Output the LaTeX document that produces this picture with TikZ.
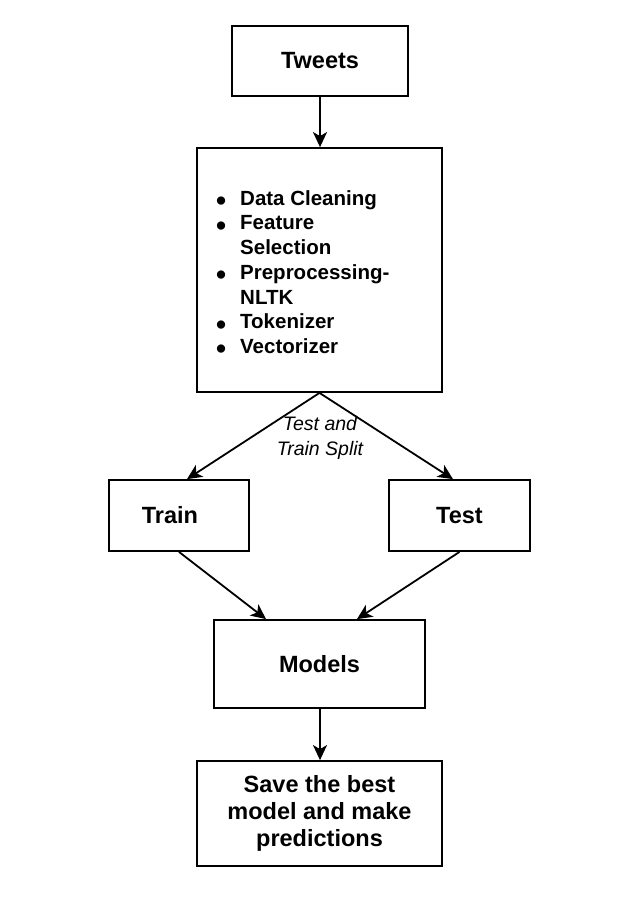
\documentclass[tikz,border=0pt]{standalone}
\usepackage{fontspec}
\usepackage{graphicx}
\setmainfont{Liberation Sans}
\usetikzlibrary{arrows.meta,calc}
\newcommand{\mybul}{\makebox[24pt][l]{\smash{\raisebox{-5.5pt}{\scalebox{1.4}{•}}}}}
\begin{document}
\begin{tikzpicture}[x=1pt,y=-1pt,
  box/.style={draw=black,line width=1.8pt,rectangle,inner sep=0pt,align=center,
    font=\bfseries\fontsize{23.5}{27}\selectfont},
  conn/.style={line width=1.8pt,-{Stealth[length=15pt,width=14pt,inset=4pt]}},
  listtext/.style={inner sep=0pt,align=left,font=\bfseries\fontsize{20.5}{24.7}\selectfont},
  lbl/.style={inner sep=0pt,align=center,font=\itshape\fontsize{19.5}{25}\selectfont}]
\useasboundingbox (0,0) rectangle (634,906);
\node[box,minimum width=176pt,minimum height=70pt] (tweets) at (320,61) {Tweets};
\node[box,minimum width=245pt,minimum height=244pt] (big) at (319.5,270) {};
\node[listtext,anchor=west] (list) at (216,272) {%
\mybul Data Cleaning\\
\mybul Feature\\
\hspace*{24pt}Selection\\
\mybul Preprocessing-\\
\hspace*{24pt}NLTK\\
\mybul Tokenizer\\
\mybul Vectorizer};
\node[box,minimum width=140pt,minimum height=71pt] (train) at (179,515.5) {Train\hspace*{18pt}};
\node[box,minimum width=141pt,minimum height=71pt] (test) at (459.5,515.5) {Test};
\node[box,minimum width=211pt,minimum height=88pt] (models) at (319.5,664) {Models};
\node[box,minimum width=245pt,minimum height=105pt] (save) at (319.5,813.5) {Save the best\\model and make\\predictions};
\node[lbl] (split) at (320,437.5) {Test and\\Train Split};
\draw[conn] (tweets.south) -- (tweets.south |- big.north);
\draw[conn] (big.south) -- ($(train.north)+(8,0)$);
\draw[conn] (big.south) -- ($(test.north)+(-6.5,0)$);
\draw[conn] (train.south) -- ($(models.north)+(-53.5,0)$);
\draw[conn] (test.south) -- ($(models.north)+(37.5,0)$);
\draw[conn] ($(models.south)+(0.5,0)$) -- ($(models.south |- save.north)+(0.5,0)$);
\end{tikzpicture}
\end{document}
